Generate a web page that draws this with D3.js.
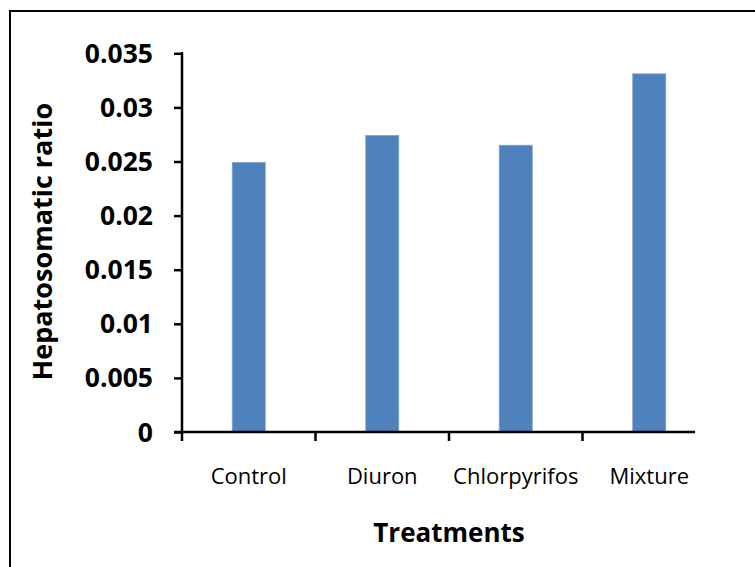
<!DOCTYPE html>
<html>
<head>
<meta charset="utf-8">
<script src="https://cdn.jsdelivr.net/npm/d3@7/dist/d3.min.js"></script>
<style>
html,body{margin:0;padding:0;background:#fff;}
svg{display:block;}
</style>
</head>
<body>
<svg id="chart" width="755" height="567"></svg>
<script>
const categories = ["Control", "Diuron", "Chlorpyrifos", "Mixture"];
const values = [0.0249, 0.0274, 0.0265, 0.0331];
const yTicks = [0, 0.005, 0.01, 0.015, 0.02, 0.025, 0.03, 0.035];
const yTickLabels = ["0", "0.005", "0.01", "0.015", "0.02", "0.025", "0.03", "0.035"];
const yTitle = "Hepatosomatic ratio";
const xTitle = "Treatments";

(function () {
const svg = d3.select("#chart");
svg.append("rect").attr("x", 10).attr("y", 11).attr("width", 800).attr("height", 600)
  .attr("fill", "#fff").attr("stroke", "#000").attr("stroke-width", 2);

const pLeft = 182, pRight = 716, pTop = 53.3, pBottom = 432, axisEnd = 695;
const x = d3.scaleBand().domain(categories).range([pLeft, pRight]).padding(0);
const y = d3.scaleLinear().domain([0, 0.035]).range([pBottom, pTop]);
const barW = 33;

svg.append("g").selectAll("rect").data(values).enter().append("rect")
  .attr("x", (d, i) => x(categories[i]) + x.bandwidth() / 2 - barW / 2)
  .attr("y", d => y(d))
  .attr("width", barW)
  .attr("height", d => y(0) - y(d))
  .attr("fill", "#4F81BD")
  .attr("stroke", "#7BA0CD").attr("stroke-width", 0.8);

const font = "'Open Sans', sans-serif";

// Y axis
const yAxis = d3.axisLeft(y).tickValues(yTicks).tickSize(8).tickPadding(21)
  .tickFormat((d, i) => yTickLabels[i]);
const gy = svg.append("g").attr("transform", `translate(${pLeft},0)`).call(yAxis);
gy.select(".domain").remove();
gy.selectAll(".tick line").attr("stroke", "#000").attr("stroke-width", 2.5);
gy.selectAll(".tick text").attr("font-family", font).attr("font-weight", "bold")
  .attr("font-size", 26.5).attr("fill", "#000").attr("dy", "0.34em");
svg.append("line").attr("x1", pLeft).attr("x2", pLeft).attr("y1", pTop - 1.2).attr("y2", pBottom + 1)
  .attr("stroke", "#000").attr("stroke-width", 2.5);

// X axis
const xTickPos = categories.map(c => x(c));
svg.append("g").selectAll("line").data(xTickPos).enter().append("line")
  .attr("x1", d => d).attr("x2", d => d).attr("y1", pBottom).attr("y2", pBottom + 9)
  .attr("stroke", "#000").attr("stroke-width", 2.5);
svg.append("line").attr("x1", pLeft - 8).attr("x2", axisEnd).attr("y1", pBottom).attr("y2", pBottom)
  .attr("stroke", "#000").attr("stroke-width", 2.5);

svg.append("g").selectAll("text").data(categories).enter().append("text")
  .attr("x", d => x(d) + x.bandwidth() / 2)
  .attr("y", 484)
  .attr("text-anchor", "middle")
  .attr("font-family", font).attr("font-size", 22).attr("fill", "#000")
  .text(d => d);

svg.append("text").attr("x", (pLeft + pRight) / 2).attr("y", 542)
  .attr("text-anchor", "middle").attr("font-family", font).attr("font-weight", "bold")
  .attr("font-size", 26).attr("fill", "#000").text(xTitle);

svg.append("text").attr("transform", `translate(52,${(pTop + pBottom) / 2 - 1}) rotate(-90)`)
  .attr("text-anchor", "middle").attr("font-family", font).attr("font-weight", "bold")
  .attr("font-size", 27).attr("fill", "#000").text(yTitle);
})();
</script>
</body>
</html>
